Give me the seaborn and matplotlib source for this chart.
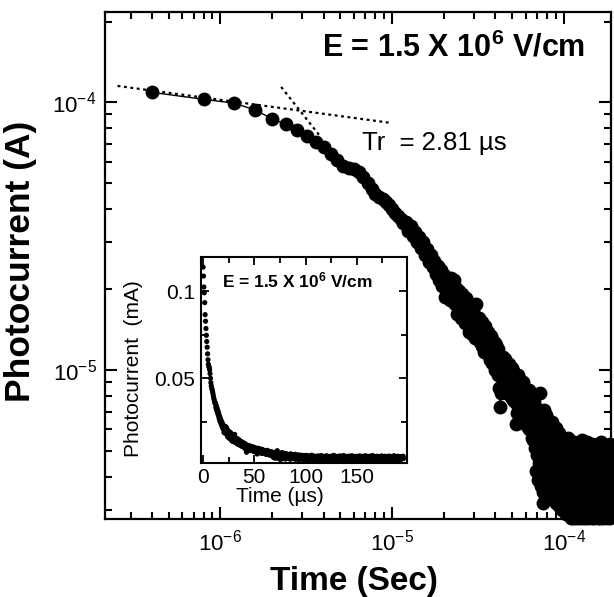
import numpy as np
import pandas as pd
import matplotlib
matplotlib.use("Agg")
import matplotlib.pyplot as plt
import seaborn as sns
from matplotlib.ticker import LogLocator, NullFormatter, MultipleLocator, FuncFormatter, LogFormatterSciNotation

sns.set_style("ticks")
plt.rcParams['font.family'] = ['Liberation Sans', 'DejaVu Sans']
plt.rcParams['mathtext.fontset'] = 'custom'
plt.rcParams['mathtext.rm'] = 'Liberation Sans'
plt.rcParams['mathtext.it'] = 'Liberation Sans:italic'
plt.rcParams['mathtext.bf'] = 'Liberation Sans:bold'
for k in ['text.color', 'axes.labelcolor', 'xtick.color', 'ytick.color', 'axes.edgecolor']:
    plt.rcParams[k] = 'black'

# ---------------- data ----------------
sample_step_us = 0.4   # sampling interval of the transient (microseconds)
current_uA = [
    114.0, 108.8, 102.5, 99.2, 93.5, 86.6, 82.8, 78.6, 74.7, 71.1,
    67.8, 64.0, 60.6, 58.0, 56.8, 56.2, 54.8, 52.6, 49.9, 47.4,
    45.6, 44.4, 43.4, 42.4, 41.2, 39.8, 38.6, 37.5, 36.6, 35.5,
    35.7, 33.1, 34.4, 31.6, 32.9, 30.1, 31.5, 28.6, 30.0, 26.9,
    28.3, 25.3, 27.0, 24.2, 25.6, 22.9, 24.5, 21.7, 23.6, 20.6,
    22.6, 18.7, 21.8, 19.9, 18.2, 22.1, 19.0, 21.6, 17.6, 20.3,
    16.2, 19.8, 17.1, 15.6, 19.2, 16.8, 15.0, 18.6, 16.1, 17.9,
    13.9, 17.3, 15.0, 13.6, 16.8, 14.4, 13.2, 17.6, 14.6, 13.3,
    15.6, 12.7, 14.2, 12.3, 15.1, 13.2, 11.7, 14.6, 12.5, 11.6,
    13.9, 11.5, 12.9, 10.9, 13.4, 11.8, 10.6, 12.8, 11.2, 12.6,
    10.0, 12.4, 10.7, 9.6, 12.0, 8.6, 7.3, 8.2, 9.5, 10.8,
    11.2, 8.9, 10.3, 8.5, 11.0, 9.6, 8.2, 10.6, 9.1, 8.4,
    10.5, 8.6, 9.7, 7.9, 10.2, 9.0, 7.7, 9.9, 8.3, 9.4,
    7.6, 9.5, 6.3, 6.9, 7.5, 9.6, 8.2, 7.2, 9.2, 8.0,
    8.8, 7.0, 8.3, 6.6, 9.0, 7.6, 6.7, 8.5, 7.3, 8.2,
    6.5, 8.3, 7.1, 6.2, 8.0, 7.4, 6.0, 8.4, 6.8, 7.5,
    6.0, 7.8, 6.6, 5.6, 7.5, 6.9, 5.5, 7.6, 6.3, 7.0,
    5.1, 6.6, 4.2, 7.2, 4.8, 6.4, 3.9, 6.9, 4.5, 6.2,
    5.0, 8.2, 4.4, 6.0, 3.7, 5.8, 4.6, 6.3, 3.5, 3.2,
    6.6, 4.1, 7.1, 3.6, 5.9, 4.8, 6.8, 3.9, 5.4, 4.4,
    5.8, 3.4, 6.5, 4.2, 5.5, 3.8, 6.2, 4.7, 5.1, 3.6,
    6.0, 4.4, 5.3, 3.3, 6.4, 4.9, 4.0, 5.7, 3.7, 5.2,
    4.3, 5.9, 3.5, 5.0, 4.1, 6.1, 3.2, 4.8, 5.5, 3.9,
    5.2, 3.6, 4.6, 5.8, 3.1, 4.4, 5.3, 3.8, 4.9, 4.0,
    5.6, 3.4, 4.5, 5.1, 3.0, 4.7, 3.9, 5.4, 4.2, 3.5,
    4.8, 3.3, 5.5, 4.0, 3.6, 5.0, 4.4, 2.9, 4.6, 3.8,
    5.3, 4.1, 3.4, 4.9, 3.9, 5.6, 3.2, 4.5, 4.2, 3.7,
    4.7, 3.0, 5.1, 3.8, 2.8, 4.4, 3.5, 4.9, 3.3, 4.1,
    3.6, 5.2, 2.8, 4.3, 3.9, 4.8, 3.1, 4.0, 5.4, 2.9,
    4.5, 3.4, 3.8, 5.0, 2.8, 4.2, 3.6, 4.7, 3.2, 4.4,
    3.9, 5.3, 3.0, 4.1, 3.5, 4.6, 2.8, 4.9, 3.7, 4.3,
    3.3, 4.8, 4.0, 2.9, 5.1, 3.6, 4.4, 3.2, 4.2, 5.5,
    3.8, 2.8, 4.5, 3.4, 4.9, 3.9, 3.1, 4.6, 4.1, 3.5,
    5.0, 3.7, 2.8, 4.3, 3.9, 5.2, 3.3, 4.0, 2.9, 4.7,
    3.6, 4.4, 3.2, 5.4, 4.1, 2.8, 3.8, 4.6, 3.4, 4.9,
    4.0, 3.1, 4.8, 3.7, 4.3, 2.9, 5.1, 3.5, 4.2, 3.8,
    4.6, 3.3, 3.9, 5.3, 2.8, 4.4, 3.6, 4.9, 3.2, 4.1,
    3.7, 4.5, 3.0, 4.2, 5.0, 3.4, 3.9, 2.8, 4.7, 3.6,
    4.3, 3.5, 5.2, 3.1, 4.0, 4.8, 3.3, 4.4, 2.9, 3.9,
    5.0, 3.6, 4.2, 2.8, 4.6, 3.8, 5.3, 3.2, 4.1, 3.5,
    4.4, 3.0, 4.9, 3.7, 4.2, 2.8, 4.5, 3.9, 5.1, 3.4,
    3.8, 4.7, 3.2, 4.0, 5.4, 3.5, 4.3, 2.9, 4.8, 3.6,
    4.1, 3.3, 4.6, 3.9, 2.8, 5.0, 3.7, 4.4, 3.1, 4.2,
    3.5, 4.9, 3.8, 3.0, 4.5, 4.0, 5.2, 3.4, 4.1, 2.9,
    4.7, 3.6, 4.3, 3.1, 5.0, 3.9, 2.8, 4.4, 3.7, 4.8,
    3.3, 4.2, 3.8, 5.1, 3.5, 4.6, 3.0, 4.0, 4.9, 3.6,
    4.4, 3.2, 4.7, 3.9, 2.8, 4.3, 5.3, 3.7, 4.1, 3.4,
    4.6, 3.8, 3.1, 4.5, 4.0, 5.0, 3.5, 4.2, 2.9, 4.4,
    3.9, 4.8, 3.6, 4.1, 3.3, 4.7, 3.8, 4.3, 5.0, 3.7,
]

# dotted tangent lines used to find the transit time
fit_flat_time_s = [2.52e-7, 9.67e-6]
fit_flat_curr_A = [1.15e-4, 8.38e-5]
fit_steep_time_s = [2.26e-6, 3.82e-6]
fit_steep_curr_A = [1.14e-4, 7.45e-5]

field_label = r"E = 1.5 X 10$^{\mathbf{6}}$ V/cm"
transit_label = "Tr  = 2.81 \u00b5s"

# ---------------- derived tables ----------------
time_us = sample_step_us * np.arange(len(current_uA))
df = pd.DataFrame({"time_us": time_us, "current_uA": current_uA})
df["time_s"] = df["time_us"] * 1e-6
df["current_A"] = df["current_uA"] * 1e-6
df["current_mA"] = df["current_uA"] * 1e-3
df_main = df[df["time_s"] > 0]

# ---------------- figure ----------------
fig = plt.figure(figsize=(6.14, 5.97), dpi=100)
ax = fig.add_axes([0.171, 0.1307, 0.824, 0.85])

sns.lineplot(data=df_main, x="time_s", y="current_A", ax=ax, estimator=None,
             sort=False, color="black", linewidth=1.0, marker="o",
             markersize=10, markeredgewidth=0, clip_on=False)
ax.plot(fit_flat_time_s, fit_flat_curr_A, color="black", lw=1.6,
        linestyle=(0, (1.3, 1.6)))
ax.plot(fit_steep_time_s, fit_steep_curr_A, color="black", lw=1.6,
        linestyle=(0, (1.3, 1.6)))

ax.set_xscale("log")
ax.set_yscale("log")
ax.set_xlim(2.13e-7, 1.88e-4)
ax.set_ylim(2.78e-6, 2.18e-4)

ax.xaxis.set_major_locator(LogLocator(base=10, numticks=10))
ax.xaxis.set_minor_locator(LogLocator(base=10, subs=np.arange(2, 10), numticks=20))
ax.yaxis.set_major_locator(LogLocator(base=10, numticks=10))
ax.yaxis.set_minor_locator(LogLocator(base=10, subs=np.arange(2, 10), numticks=20))
ax.xaxis.set_major_formatter(LogFormatterSciNotation())
ax.yaxis.set_major_formatter(LogFormatterSciNotation())
ax.xaxis.set_minor_formatter(NullFormatter())
ax.yaxis.set_minor_formatter(NullFormatter())

ax.tick_params(which="both", direction="in", top=True, right=True,
               width=1.5, color="black")
ax.tick_params(which="major", length=8.8, labelsize=16)
ax.tick_params(axis="y", which="major", pad=6)
ax.tick_params(axis="x", which="major", pad=8)
ax.tick_params(which="minor", length=4.7)
for s in ax.spines.values():
    s.set_linewidth(1.6)
    s.set_color("black")

ax.set_xlabel("Time (Sec)", fontsize=24, fontweight="bold")
ax.set_ylabel("Photocurrent (A)", fontsize=25.5, fontweight="bold")
ax.xaxis.set_label_coords(0.4915, -0.092)
ax.yaxis.set_label_coords(-0.134, 0.508)

ax.text(0.95, 0.928, field_label, transform=ax.transAxes, ha="right",
        va="center", fontsize=22, fontweight="bold")
ax.text(0.508, 0.741, transit_label, transform=ax.transAxes, ha="left",
        va="center", fontsize=18.5)

# ---------------- inset ----------------
axin = fig.add_axes([0.3274, 0.225, 0.3355, 0.3445])
axin.set_facecolor("white")
sns.scatterplot(data=df, x="time_us", y="current_mA", ax=axin, s=14,
                color="black", edgecolor="none", linewidth=0, legend=False)
axin.set_xlim(-2, 199)
axin.set_ylim(0.0013, 0.1198)
axin.xaxis.set_major_locator(MultipleLocator(50))
axin.xaxis.set_minor_locator(MultipleLocator(25))
axin.yaxis.set_major_locator(MultipleLocator(0.05))
axin.yaxis.set_minor_locator(MultipleLocator(0.025))
axin.xaxis.set_major_formatter(FuncFormatter(lambda v, p: "%g" % v))
axin.yaxis.set_major_formatter(FuncFormatter(lambda v, p: "" if v <= 0 else "%g" % round(v, 3)))
axin.tick_params(which="both", direction="in", top=True, right=True,
                 width=1.3, color="black")
axin.tick_params(which="major", length=6, labelsize=15, pad=4)
axin.tick_params(which="minor", length=4)
for s in axin.spines.values():
    s.set_linewidth(1.5)
    s.set_color("black")
axin.set_xlabel("Time (\u00b5s)", fontsize=15)
axin.set_ylabel("Photocurrent  (mA)", fontsize=15)
axin.xaxis.set_label_coords(0.383, -0.118)
axin.yaxis.set_label_coords(-0.28, 0.455)
axin.text(0.10, 0.888, field_label, transform=axin.transAxes, ha="left",
          va="center", fontsize=12.5, fontweight="bold")

fig.savefig("out.png", dpi=100)
